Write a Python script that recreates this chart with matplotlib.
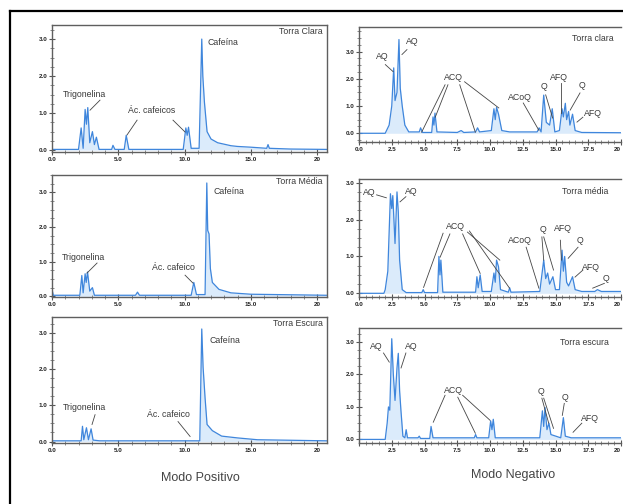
import matplotlib
matplotlib.use("Agg")
import matplotlib.pyplot as plt
from matplotlib.lines import Line2D
from matplotlib.ticker import MultipleLocator

plt.rcParams['font.family'] = ['Liberation Sans', 'DejaVu Sans']

# ---------------- data (retention time in min, signal) ----------------
# Positive mode
pos_clara_t = [0, 2.0, 2.2, 2.35, 2.5, 2.6, 2.7, 2.85, 3.05, 3.2, 3.35, 3.55, 4.5, 4.6, 4.75, 5.45, 5.6, 5.8,
               9.9, 10.1, 10.2, 10.3, 10.5, 11.1, 11.3, 11.38, 11.5, 11.7, 12.0, 12.5, 13.5, 14.0, 15.0,
               16.2, 16.3, 16.4, 18.0, 20.7]
pos_clara_v = [0.02, 0.02, 0.6, 0.05, 1.1, 0.7, 1.15, 0.2, 0.5, 0.15, 0.35, 0.02, 0.02, 0.13, 0.02, 0.02, 0.4, 0.02,
               0.02, 0.6, 0.4, 0.62, 0.05, 0.05, 3.0, 2.0, 1.3, 0.5, 0.3, 0.2, 0.12, 0.1, 0.08,
               0.05, 0.15, 0.05, 0.03, 0.02]

pos_media_t = [0, 0.1, 2.1, 2.25, 2.35, 2.5, 2.58, 2.68, 2.85, 3.05, 3.2, 6.3, 6.45, 6.6, 10.5, 10.7, 10.9,
               11.55, 11.68, 11.75, 11.85, 11.95, 12.1, 12.6, 13.5, 15.0, 20.7]
pos_media_v = [0.2, 0.03, 0.03, 0.6, 0.1, 0.65, 0.4, 0.7, 0.15, 0.25, 0.03, 0.03, 0.12, 0.03, 0.03, 0.4, 0.05,
               0.05, 3.27, 1.9, 1.8, 0.8, 0.4, 0.2, 0.1, 0.06, 0.03]

pos_escura_t = [0, 2.2, 2.3, 2.4, 2.6, 2.75, 2.95, 3.1, 3.6, 10.9, 11.15, 11.3, 11.4, 11.55, 11.7, 12.1, 12.8,
                14.0, 15.5, 20.7]
pos_escura_v = [0.02, 0.02, 0.42, 0.05, 0.38, 0.05, 0.35, 0.04, 0.02, 0.02, 0.02, 3.1, 2.05, 1.2, 0.47, 0.3, 0.15,
                0.1, 0.05, 0.02]

# Negative mode
neg_clara_t = [0, 2.0, 2.3, 2.5, 2.65, 2.75, 2.9, 3.05, 3.15, 3.3, 3.5, 3.8, 4.6, 4.7, 4.85, 5.55, 5.65, 5.72,
               5.8, 5.95, 7.5, 7.8, 8.0, 8.9, 9.05, 9.2, 10.1, 10.3, 10.4, 10.5, 10.65, 10.9, 11.5, 13.6,
               13.75, 13.9, 14.1, 14.3, 14.55, 14.75, 14.95, 15.3, 15.5, 15.6, 15.75, 15.85, 16.0, 16.1,
               16.3, 16.5, 17.0, 20.0]
neg_clara_v = [0.0, 0.0, 0.3, 1.0, 2.4, 1.2, 1.5, 3.44, 1.65, 1.0, 0.3, 0.05, 0.05, 0.2, 0.03, 0.03, 0.6, 0.3,
               0.74, 0.05, 0.03, 0.1, 0.03, 0.05, 0.2, 0.05, 0.1, 0.9, 0.5, 0.95, 0.7, 0.1, 0.05, 0.05,
               0.2, 0.05, 1.4, 0.4, 0.3, 0.9, 0.05, 0.1, 0.9, 0.6, 1.1, 0.5, 0.8, 0.3,
               0.7, 0.1, 0.03, 0.02]

neg_media_t = [0, 1.9, 2.0, 2.2, 2.4, 2.5, 2.58, 2.75, 2.9, 3.0, 3.1, 3.3, 3.6, 4.8, 4.9, 5.0, 6.0, 6.1, 6.18,
               6.25, 6.4, 8.9, 9.0, 9.1, 9.25, 9.4, 10.1, 10.3, 10.4, 10.5, 10.65, 10.8, 11.4, 11.5, 11.6,
               13.8, 14.1, 14.25, 14.4, 14.55, 14.8, 15.0, 15.3, 15.5, 15.6, 15.7, 15.85, 16.0, 16.3, 16.5,
               17.0, 18.0, 18.2, 18.5, 20.0]
neg_media_v = [0.0, 0.0, 0.1, 0.6, 2.7, 2.3, 2.65, 1.35, 2.75, 2.2, 0.9, 0.1, 0.02, 0.02, 0.1, 0.02, 0.02, 1.0, 0.5,
               0.9, 0.03, 0.03, 0.45, 0.15, 0.5, 0.05, 0.05, 0.55, 0.3, 0.9, 0.72, 0.1, 0.03, 0.15, 0.03,
               0.05, 0.9, 0.4, 0.55, 0.25, 0.45, 0.1, 0.1, 1.17, 0.6, 1.0, 0.3, 0.2, 0.45, 0.1,
               0.05, 0.05, 0.1, 0.05, 0.05]

neg_escura_t = [0, 2.0, 2.15, 2.25, 2.35, 2.5, 2.62, 2.75, 2.9, 3.0, 3.1, 3.2, 3.35, 3.5, 3.6, 3.7, 4.5, 4.6, 4.7,
                5.4, 5.5, 5.65, 8.8, 8.9, 9.0, 9.9, 10.05, 10.15, 10.25, 10.4, 13.8, 14.0, 14.1, 14.2, 14.35,
                14.5, 14.65, 15.4, 15.6, 15.75, 16.2, 20.0]
neg_escura_v = [0.0, 0.0, 0.5, 1.0, 0.9, 3.1, 2.0, 1.2, 2.2, 2.65, 1.5, 0.9, 0.1, 0.05, 0.3, 0.05, 0.05, 0.1, 0.03,
                0.03, 0.4, 0.05, 0.05, 0.15, 0.05, 0.05, 0.57, 0.3, 0.62, 0.05, 0.05, 0.88, 0.4, 0.98, 0.3,
                0.5, 0.15, 0.05, 0.67, 0.1, 0.05, 0.05]

pos_xticks = [0, 5, 10, 15, 20]
pos_xticklabels = ['0.0', '5.0', '10.0', '15.0', '20']
neg_xticks = [0, 2.5, 5, 7.5, 10, 12.5, 15, 17.5, 20]
neg_xticklabels = ['0.0', '2.5', '5.0', '7.5', '10.0', '12.5', '15.0', '17.5', '20']
neg_xticklabels_bottom = ['', '2.5', '5.0', '7.5', '10.0', '12.5', '15.0', '17.5', '20']
yticks = [0, 1, 2, 3]
yticklabels = ['0.0', '1.0', '2.0', '3.0']

roast_pos = ['Torra Clara', 'Torra Média', 'Torra Escura']
roast_neg = ['Torra clara', 'Torra média', 'Torra escura']

# annotations: (text, x, y, [leader lines ((x0,y0),(x1,y1))])
ann_pos = [
    [('Trigonelina', 2.42, 1.49, [((3.62, 1.35), (2.87, 1.08))]),
     ('Ác. cafeicos', 7.55, 1.08, [((6.42, 0.81), (5.66, 0.41)), ((9.13, 0.81), (10.04, 0.49))])],
    [('Trigonelina', 2.38, 1.13, [((3.40, 0.96), (2.64, 0.67))]),
     ('Ác. cafeico', 9.2, 0.84, [((10.04, 0.61), (10.64, 0.38))])],
    [('Trigonelina', 2.42, 0.93, [((3.25, 0.74), (3.02, 0.47))]),
     ('Ác. cafeico', 8.75, 0.74, [((9.51, 0.55), (10.42, 0.14))])],
]
cafeina_pos = [(11.7, 2.92), (12.15, 3.01), (11.92, 2.79)]

ann_neg = [
    [('AQ', 1.79, 2.81, [((2.01, 2.52), (2.61, 2.26))]),
     ('AQ', 4.07, 3.37, [((3.66, 3.07), (3.28, 2.89))]),
     ('ACQ', 7.24, 2.04, [((6.57, 1.78), (4.78, 0.04)), ((6.79, 1.78), (5.82, 0.59)),
                          ((7.69, 1.78), (8.88, 0.04)), ((8.06, 1.89), (10.67, 0.93))]),
     ('ACoQ', 12.28, 1.33, [((12.54, 1.11), (13.73, 0.11))]),
     ('Q', 14.1, 1.70, [((14.25, 1.41), (14.78, 0.56))]),
     ('AFQ', 15.3, 2.04, [((15.45, 1.85), (15.45, 0.74))]),
     ('Q', 17.01, 1.74, [((16.87, 1.48), (16.12, 0.85))]),
     ('AFQ', 17.84, 0.74, [((17.09, 0.59), (16.64, 0.41))])],
    [('AQ', 0.82, 2.74, [((1.34, 2.67), (2.09, 2.59))]),
     ('AQ', 4.03, 2.75, [((3.58, 2.62), (3.13, 2.48))]),
     ('ACQ', 7.35, 1.80, [((6.42, 1.63), (4.93, 0.16)), ((6.94, 1.61), (6.19, 0.98)),
                          ((7.91, 1.61), (9.25, 0.54)), ((8.28, 1.66), (10.75, 0.90)),
                          ((8.43, 1.69), (11.49, 0.14))]),
     ('ACoQ', 12.28, 1.44, [((12.76, 1.25), (13.73, 0.14))]),
     ('Q', 14.03, 1.72, [((13.96, 1.53), (14.1, 0.90)), ((14.1, 1.53), (14.85, 0.63))]),
     ('AFQ', 15.56, 1.77, [((15.37, 1.44), (15.45, 0.90))]),
     ('Q', 16.87, 1.44, [((16.72, 1.25), (15.97, 0.95))]),
     ('AFQ', 17.72, 0.71, [((17.09, 0.63), (16.49, 0.44))]),
     ('Q', 18.88, 0.41, [((18.73, 0.27), (17.84, 0.14))])],
    [('AQ', 1.34, 2.86, [((1.87, 2.66), (2.31, 2.38))]),
     ('AQ', 3.96, 2.85, [((3.58, 2.66), (3.21, 2.20))]),
     ('ACQ', 7.24, 1.52, [((6.57, 1.36), (5.67, 0.53)), ((7.54, 1.30), (8.88, 0.19)),
                          ((7.91, 1.36), (10.0, 0.59))]),
     ('Q', 13.88, 1.46, [((13.96, 1.27), (14.48, 0.50)), ((14.1, 1.27), (14.85, 0.34))]),
     ('Q', 15.75, 1.30, [((15.67, 1.11), (15.52, 0.74))]),
     ('AFQ', 17.61, 0.65, [((17.01, 0.50), (16.34, 0.22))])],
]
torra_neg_pos = [(16.27, 3.48), (15.52, 2.75), (15.37, 2.97)]

# ---------------- figure ----------------
W, H = 623, 504
fig = plt.figure(figsize=(W / 100, H / 100), dpi=100)

def fr(l, r, t, b):
    return [l / W, 1 - b / H, (r - l) / W, (b - t) / H]

pos_axes_px = [(52, 327, 25, 152), (52, 327, 175, 297), (52, 327, 317, 443)]
neg_axes_px = [(359, 621, 27, 142), (359, 621, 179, 297), (359, 621, 328, 443)]
pos_ylims = [(-0.05, 3.38), (-0.02, 3.5), (-0.04, 3.43)]
neg_ylims = [(-0.32, 3.9), (-0.1, 3.1), (-0.11, 3.43)]

LINE = '#3f86dc'
FILL = '#d3e6fa'
TXT = '#3a3a3a'
SPINE = '#5f5f5f'

def style(ax, xlim, ylim, xticks, xlabels, xminor):
    ax.set_xlim(*xlim)
    ax.set_ylim(*ylim)
    ax.set_xticks(xticks)
    ax.set_xticklabels(xlabels)
    ax.set_yticks(yticks)
    ax.set_yticklabels(yticklabels)
    ax.xaxis.set_minor_locator(MultipleLocator(xminor))
    ax.yaxis.set_minor_locator(MultipleLocator(0.25))
    for s in ax.spines.values():
        s.set_color(SPINE)
        s.set_linewidth(1.0)
    ax.tick_params(axis='both', which='major', direction='inout', length=4, width=0.8,
                   color='#555555', labelsize=4.5, pad=1.5, labelcolor='#222222')
    ax.tick_params(axis='both', which='minor', direction='inout', length=2.5, width=0.6, color='#777777')
    for lab in ax.get_xticklabels() + ax.get_yticklabels():
        lab.set_fontweight('bold')

pos_data = [(pos_clara_t, pos_clara_v), (pos_media_t, pos_media_v), (pos_escura_t, pos_escura_v)]
neg_data = [(neg_clara_t, neg_clara_v), (neg_media_t, neg_media_v), (neg_escura_t, neg_escura_v)]

for i in range(3):
    ax = fig.add_axes(fr(*pos_axes_px[i]))
    t, v = pos_data[i]
    ax.fill_between(t, 0, v, color=FILL, lw=0, alpha=0.8)
    ax.plot(t, v, color=LINE, lw=0.9)
    style(ax, (0, 20.75), pos_ylims[i], pos_xticks, pos_xticklabels, 1.0)
    for txt, x, y, leaders in ann_pos[i]:
        ax.text(x, y, txt, fontsize=6.3, color=TXT, ha='center', va='center')
        for (x0, y0), (x1, y1) in leaders:
            ax.plot([x0, x1], [y0, y1], color='#444444', lw=0.6)
    cx, cy = cafeina_pos[i]
    ax.text(cx, cy, 'Cafeína', fontsize=6.3, color=TXT, ha='left', va='center')
    ax.text(0.985, 0.985, roast_pos[i], transform=ax.transAxes, fontsize=6.3, color=TXT,
            ha='right', va='top')

for i in range(3):
    ax = fig.add_axes(fr(*neg_axes_px[i]))
    t, v = neg_data[i]
    ax.fill_between(t, 0, v, color=FILL, lw=0, alpha=0.8)
    ax.plot(t, v, color=LINE, lw=0.9)
    style(ax, (0, 20), neg_ylims[i], neg_xticks,
          neg_xticklabels if i < 2 else neg_xticklabels_bottom, 0.5)
    ax.spines['right'].set_visible(False)
    ax.get_xticklabels()[-1].set_horizontalalignment('right')
    for txt, x, y, leaders in ann_neg[i]:
        ax.text(x, y, txt, fontsize=6.3, color=TXT, ha='center', va='center')
        for (x0, y0), (x1, y1) in leaders:
            ax.plot([x0, x1], [y0, y1], color='#444444', lw=0.6)
    tx, ty = torra_neg_pos[i]
    ax.text(tx, ty, roast_neg[i], fontsize=6.3, color=TXT, ha='left', va='center')

fig.text(200 / W, 1 - 478 / H, 'Modo Positivo', fontsize=9, color='#444444', ha='center', va='center')
fig.text(513 / W, 1 - 475 / H, 'Modo Negativo', fontsize=9, color='#444444', ha='center', va='center')

# outer frame of the figure panel
fig.add_artist(Line2D([10 / W, 1.0], [1 - 11 / H, 1 - 11 / H], transform=fig.transFigure,
                      color='black', lw=1.6))
fig.add_artist(Line2D([10 / W, 10 / W], [1 - 11 / H, 0.0], transform=fig.transFigure,
                      color='black', lw=1.6))

fig.savefig('out.png', dpi=100, facecolor='white')
